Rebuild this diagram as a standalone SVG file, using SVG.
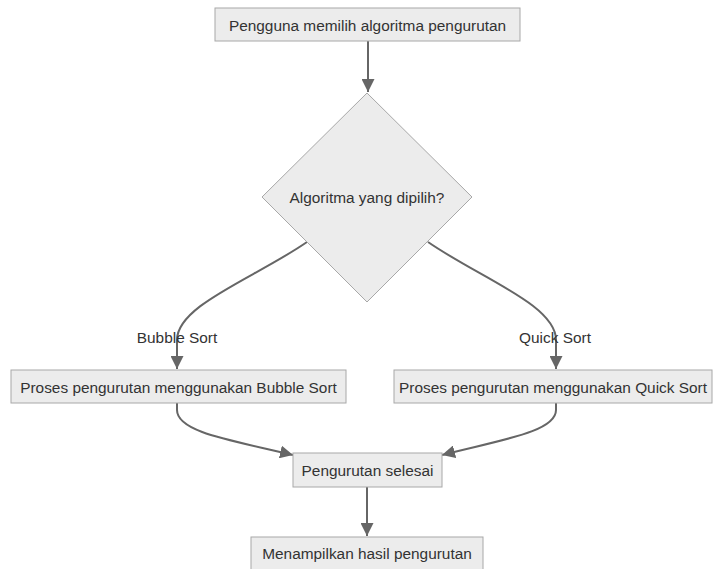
<svg xmlns="http://www.w3.org/2000/svg" width="713" height="569" viewBox="0 0 713 569">
<style>
.node rect,.node polygon{fill:#ececec;stroke:#a8a8a8;stroke-width:1}
.lbl{font-family:"Liberation Sans",Arial,sans-serif;font-size:15.4px;fill:#333;text-anchor:middle;dominant-baseline:central}
.edge{fill:none;stroke:#666;stroke-width:2}
</style>
<defs>
<marker id="arr" viewBox="0 0 10 10" refX="10" refY="5" markerWidth="6.5" markerHeight="6.5" markerUnits="strokeWidth" orient="auto">
<path d="M0,0 L10,5 L0,10 z" fill="#666"/>
</marker>
</defs>
<rect width="713" height="569" fill="#fff"/>
<g id="edges">
<path class="edge" d="M368,41 L368,92" marker-end="url(#arr)"/>
<path class="edge" d="M307,242 C255,278 177,305 177,340 L177,369" marker-end="url(#arr)"/>
<path class="edge" d="M428,242 C480,278 556,305 556,340 L556,369" marker-end="url(#arr)"/>
<path class="edge" d="M177,403 L177,410 C177,432 230,440 293,455" marker-end="url(#arr)"/>
<path class="edge" d="M556,403 L556,410 C556,432 500,440 442,455" marker-end="url(#arr)"/>
<path class="edge" d="M367,487 L367,536" marker-end="url(#arr)"/>
<text class="lbl" x="177" y="337">Bubble Sort</text>
<text class="lbl" x="555" y="337">Quick Sort</text>
</g>
<g id="n1" class="node"><rect x="215" y="8" width="305" height="33"/><text class="lbl" x="367.5" y="25">Pengguna memilih algoritma pengurutan</text></g>
<g id="n2" class="node"><polygon points="367,93 472,197 367,302 262,197"/><text class="lbl" x="367" y="197">Algoritma yang dipilih?</text></g>
<g id="n3" class="node"><rect x="11" y="370" width="335" height="33"/><text class="lbl" x="178.5" y="387">Proses pengurutan menggunakan Bubble Sort</text></g>
<g id="n4" class="node"><rect x="394" y="370" width="318" height="33"/><text class="lbl" x="553" y="387">Proses pengurutan menggunakan Quick Sort</text></g>
<g id="n5" class="node"><rect x="293" y="453" width="149" height="34"/><text class="lbl" x="367.5" y="470">Pengurutan selesai</text></g>
<g id="n6" class="node"><rect x="251" y="537" width="232" height="40"/><text class="lbl" x="367" y="553">Menampilkan hasil pengurutan</text></g>
</svg>
